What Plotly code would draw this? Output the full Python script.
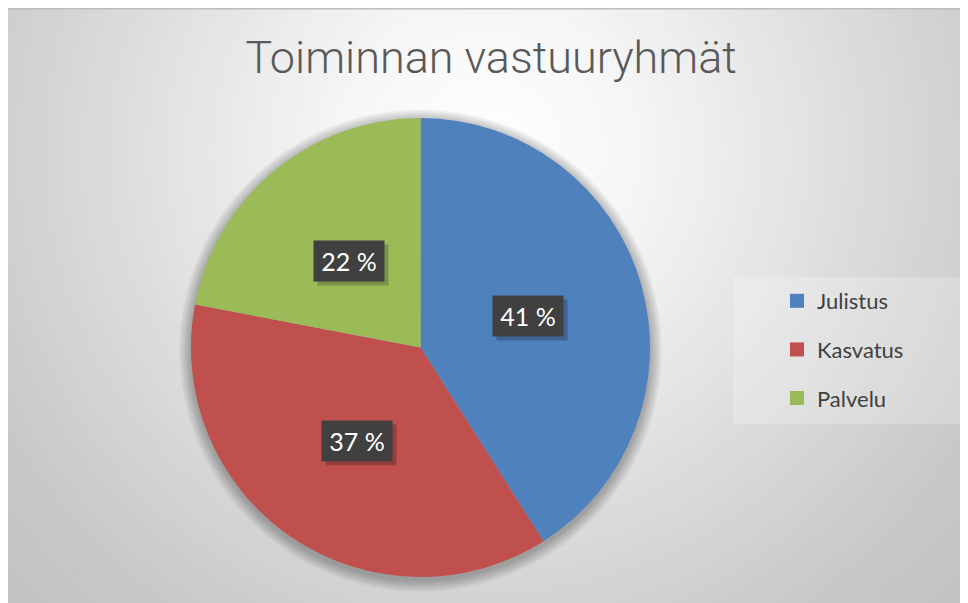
import math
import plotly.graph_objects as go

# ---- data ----
categories = ["Julistus", "Kasvatus", "Palvelu"]
values = [41, 37, 22]
colors = ["#4F81BD", "#C0504D", "#9BBB59"]
title_text = "Toiminnan vastuuryhmät"

W, H = 968, 603
OFF = 8  # page body margin (screen px -> figure px)
# pie geometry in screen pixels (layout)
cx, cy, R = 420.5, 347.5, 229.5


def px(x):
    return (x - OFF) / W


def py(y):
    return 1 - (y - OFF) / H


shapes = []
# radial background gradient (concentric circles)
gcx, gcy = 487, 150
stops = [(0, 255), (150, 246), (300, 229), (450, 212), (550, 201), (720, 190)]


def gval(d):
    for (d0, v0), (d1, v1) in zip(stops[:-1], stops[1:]):
        if d <= d1:
            return v0 + (v1 - v0) * (d - d0) / (d1 - d0)
    return stops[-1][1]


r = 720
while r > 0:
    v = int(round(gval(r)))
    shapes.append(dict(type="circle", xref="paper", yref="paper", layer="below",
                       x0=px(gcx - r), x1=px(gcx + r), y0=py(gcy + r), y1=py(gcy - r),
                       fillcolor=f"rgb({v},{v},{v})", line=dict(width=0)))
    r -= 8

# top border line
shapes.append(dict(type="line", xref="paper", yref="paper", layer="below",
                   x0=0, x1=1, y0=py(8.8), y1=py(8.8), line=dict(color="#BDBDBD", width=1.5)))

# soft shadow around the pie
for i in range(1, 13):
    rr = R + i
    shapes.append(dict(type="circle", xref="paper", yref="paper", layer="below",
                       x0=px(cx - rr), x1=px(cx + rr), y0=py(cy + 3 + rr), y1=py(cy + 3 - rr),
                       fillcolor="rgba(0,0,0,0.022)", line=dict(width=0)))

# legend box
shapes.append(dict(type="rect", xref="paper", yref="paper", layer="below",
                   x0=px(733), x1=px(964), y0=py(424), y1=py(277),
                   fillcolor="rgba(255,255,255,0.22)", line=dict(width=0)))

fig = go.Figure()
fig.add_trace(go.Pie(
    labels=categories, values=values, sort=False, direction="clockwise", rotation=0,
    marker=dict(colors=colors, line=dict(width=0)),
    textinfo="none", hoverinfo="label+percent", showlegend=False,
    domain=dict(x=[px(cx - R), px(cx + R)], y=[py(cy + R), py(cy - R)]),
))

# legend entries
for c, col in zip(categories, colors):
    fig.add_trace(go.Scatter(x=[None], y=[None], mode="markers", name=c,
                             legendgroup=c,
                             marker=dict(symbol="square", size=14, color=col)))

# data labels (positioned by slice mid-angle)
total = sum(values)
annotations = []
cum = 0
for v in values:
    mid = (cum + v / 2) / total * 2 * math.pi
    cum += v
    lr = 0.49 * R
    x = cx + lr * math.sin(mid)
    y = cy - lr * math.cos(mid)
    label = f"{round(v / total * 100)} %"
    annotations.append(dict(x=px(x + 4), y=py(y + 4), xref="paper", yref="paper",
                            xanchor="center", yanchor="middle",
                            text=" ", showarrow=False, width=62, height=32, borderpad=4,
                            bgcolor="rgba(0,0,0,0.22)", font=dict(size=24)))
    annotations.append(dict(x=px(x), y=py(y), xref="paper", yref="paper",
                            xanchor="center", yanchor="middle",
                            text=label, showarrow=False, width=62, height=32, borderpad=4,
                            bgcolor="#404040", font=dict(family="Lato", size=25, color="white")))

fig.update_layout(
    width=W, height=H, autosize=False,
    margin=dict(l=0, r=0, t=0, b=0),
    paper_bgcolor="white", plot_bgcolor="rgba(0,0,0,0)",
    xaxis=dict(visible=False), yaxis=dict(visible=False),
    title=dict(text=title_text, x=px(491), xanchor="center", y=py(57), yanchor="middle",
               xref="paper", yref="paper",
               font=dict(family="Roboto", weight=300, size=45, color="#595959")),
    legend=dict(x=px(777), xanchor="left", y=py(280), yanchor="top",
                bgcolor="rgba(0,0,0,0)", tracegroupgap=17,
                font=dict(family="Lato", size=22, color="#404040")),
    shapes=shapes, annotations=annotations,
)

fig.write_html("out.html")
